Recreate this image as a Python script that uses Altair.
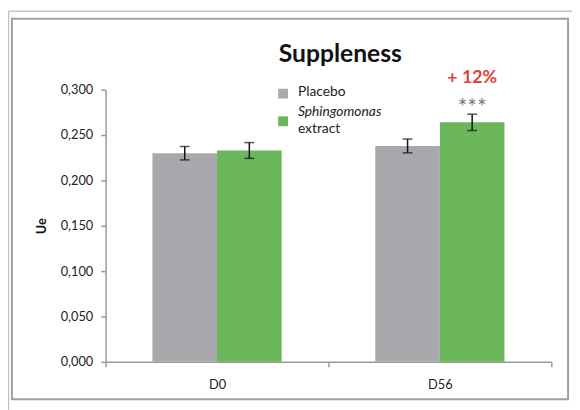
import altair as alt
import pandas as pd

# ---- data ----
days = ["D0", "D0", "D56", "D56"]
groups = ["Placebo", "Sphingomonas extract", "Placebo", "Sphingomonas extract"]
means = [0.230, 0.233, 0.238, 0.264]
errors = [0.0074, 0.0087, 0.0076, 0.0090]
group_order = ["Placebo", "Sphingomonas extract"]
group_colors = ["#A7A9AC", "#6BB55A"]
y_ticks = [0.0, 0.05, 0.10, 0.15, 0.20, 0.25, 0.30]
annot_day = "D56"
annot_group = "Sphingomonas extract"
pct_label = "+ 12%"
sig_label = "***"
chart_title = "Suppleness"
y_title = "Ue"

FONT = "Lato"
W, H = 452, 276

df = pd.DataFrame({"day": days, "group": groups, "mean": means, "err": errors})
df["lo"] = df["mean"] - df["err"]
df["hi"] = df["mean"] + df["err"]
annot = df[(df["day"] == annot_day) & (df["group"] == annot_group)].copy()
dummy = pd.DataFrame({"k": [0]})

x_enc = alt.X(
    "day:N",
    scale=alt.Scale(paddingInner=0, paddingOuter=0),
    axis=alt.Axis(
        title=None, tickBand="extent", labelAngle=0, labelPadding=12,
        labelFontSize=13, labelColor="#222222", domainColor="#999999",
        tickColor="#999999", tickSize=5, domainWidth=1.5, tickWidth=1.5,
    ),
)
xo_enc = alt.XOffset(
    "group:N", scale=alt.Scale(domain=group_order, paddingInner=0, paddingOuter=0.725)
)
y_scale = alt.Scale(domain=[0, 0.3], nice=False)
y_axis = alt.Axis(
    values=y_ticks, grid=False, title=y_title, titleFontWeight="bold",
    titleFontSize=13, titleColor="#111111", titlePadding=12,
    labelExpr="replace(format(datum.value, '.3f'), '.', ',')",
    labelFontSize=13, labelColor="#222222", labelPadding=8,
    domainColor="#999999", tickColor="#999999", tickSize=5,
    domainWidth=1.5, tickWidth=1.5,
)


def yq(field):
    return alt.Y(field, type="quantitative", scale=y_scale, axis=y_axis, title=y_title)


# frames
outer = alt.Chart(dummy).mark_rect(fillOpacity=0, stroke="#c4c4c4", strokeWidth=1.5).encode(
    x=alt.value(-98.5), x2=alt.value(480), y=alt.value(-79.5), y2=alt.value(330)
)
inner = alt.Chart(dummy).mark_rect(fillOpacity=0, stroke="#a0a0a0", strokeWidth=2).encode(
    x=alt.value(-95), x2=alt.value(469), y=alt.value(-72), y2=alt.value(314)
)

bars = alt.Chart(df).mark_bar().encode(
    x=x_enc,
    xOffset=xo_enc,
    y=yq("mean"),
    color=alt.Color("group:N", scale=alt.Scale(domain=group_order, range=group_colors), legend=None),
)

err_rule = alt.Chart(df).mark_rule(color="#111111", strokeWidth=1.5).encode(
    x=x_enc, xOffset=xo_enc, y=yq("lo"), y2="hi:Q",
)
cap_lo = alt.Chart(df).mark_tick(color="#111111", thickness=1.5, size=10).encode(
    x=x_enc, xOffset=xo_enc, y=yq("lo"),
)
cap_hi = alt.Chart(df).mark_tick(color="#111111", thickness=1.5, size=10).encode(
    x=x_enc, xOffset=xo_enc, y=yq("hi"),
)

pct = alt.Chart(annot).mark_text(
    dy=-37, fontSize=18, fontWeight="bold", color="#E0403A", font=FONT
).encode(
    x=x_enc, xOffset=xo_enc, y=yq("hi"), text=alt.value(pct_label),
)
sig = alt.Chart(annot).mark_text(
    dy=-6, fontSize=23, color="#7a7a7a", font=FONT
).encode(
    x=x_enc, xOffset=xo_enc, y=yq("hi"), text=alt.value(sig_label),
)

title = alt.Chart(dummy).mark_text(
    fontSize=25, fontWeight="bold", color="#111111", font=FONT
).encode(x=alt.value(238), y=alt.value(-36), text=alt.value(chart_title))

leg_sq1 = alt.Chart(dummy).mark_square(size=100, opacity=1).encode(
    x=alt.value(180), y=alt.value(4), color=alt.value(group_colors[0])
)
leg_sq2 = alt.Chart(dummy).mark_square(size=100, opacity=1).encode(
    x=alt.value(180), y=alt.value(32), color=alt.value(group_colors[1])
)
leg_t1 = alt.Chart(dummy).mark_text(align="left", fontSize=14, color="#222222", font=FONT).encode(
    x=alt.value(195), y=alt.value(2), text=alt.value("Placebo")
)
leg_t2 = alt.Chart(dummy).mark_text(align="left", fontSize=14, fontStyle="italic", color="#222222", font=FONT).encode(
    x=alt.value(195), y=alt.value(23), text=alt.value("Sphingomonas")
)
leg_t3 = alt.Chart(dummy).mark_text(align="left", fontSize=14, color="#222222", font=FONT).encode(
    x=alt.value(195), y=alt.value(40), text=alt.value("extract")
)

chart = alt.layer(
    outer, inner, bars, err_rule, cap_lo, cap_hi, pct, sig, title,
    leg_sq1, leg_sq2, leg_t1, leg_t2, leg_t3,
).properties(
    width=W, height=H,
    padding={"left": 99, "top": 80, "right": 21, "bottom": 46},
    autosize="none",
).configure(font=FONT).configure_view(stroke=None)

chart.save("out.html", embed_options={"renderer": "svg", "actions": False})
